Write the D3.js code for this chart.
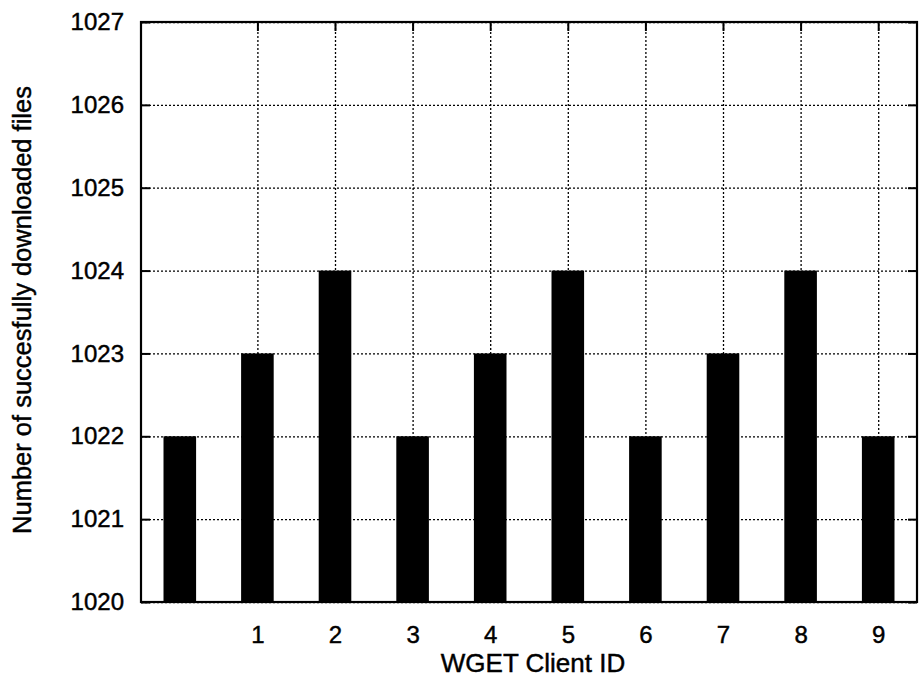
<!DOCTYPE html>
<html>
<head>
<meta charset="utf-8">
<script src="https://cdn.jsdelivr.net/npm/d3@7"></script>
<style>
  body { margin: 0; background: #fff; }
  svg text { font-family: "Liberation Sans", Arial, Helvetica, sans-serif; fill: #000; stroke: #000; stroke-width: 0.45; }
  .grid line { stroke: #000; stroke-width: 1.3; stroke-dasharray: 2,2; }
  .grid .domain { display: none; }
  .axis .domain { display: none; }
  .axis line { stroke: #000; stroke-width: 2; }
</style>
</head>
<body>
<svg id="chart" width="923" height="692"></svg>
<script>
// client ids and number of files each one got
var clientIds = [0, 1, 2, 3, 4, 5, 6, 7, 8, 9];
var downloads = [1022, 1023, 1024, 1022, 1023, 1024, 1022, 1023, 1024, 1022];
var xTickValues = [1, 2, 3, 4, 5, 6, 7, 8, 9];
var yTickValues = [1020, 1021, 1022, 1023, 1024, 1025, 1026, 1027];

var svg = d3.select("#chart");
var margin = {top: 22, right: 6, bottom: 90, left: 141};
var width = 923 - margin.left - margin.right;
var height = 692 - margin.top - margin.bottom;

var x = d3.scaleLinear().domain([-0.5, 9.5]).range([0, width]);
var y = d3.scaleLinear().domain([1020, 1027]).range([height, 0]);
var barW = x(0.42) - x(0);

var g = svg.append("g").attr("transform", "translate(" + margin.left + "," + margin.top + ")");

// dotted grid
g.append("g").attr("class", "grid")
  .call(d3.axisLeft(y).tickValues(yTickValues).tickSize(-width).tickFormat(""));
g.append("g").attr("class", "grid")
  .attr("transform", "translate(0," + height + ")")
  .call(d3.axisBottom(x).tickValues(xTickValues).tickSize(height).tickSizeOuter(0).tickFormat(""))
  .selectAll("line").attr("y2", -height);

// bars
g.selectAll("rect.bar")
  .data(clientIds)
  .enter().append("rect")
  .attr("class", "bar")
  .attr("x", function(d) { return x(d) - barW / 2; })
  .attr("width", barW)
  .attr("y", function(d, i) { return y(downloads[i]); })
  .attr("height", function(d, i) { return y(1020) - y(downloads[i]); })
  .attr("fill", "#000");

// axes with inward ticks
var left = g.append("g").attr("class", "axis")
  .call(d3.axisLeft(y).tickValues(yTickValues).tickFormat(d3.format("d"))
    .tickSizeInner(-9).tickSizeOuter(0).tickPadding(17));
left.selectAll("text").style("font-size", "24px");

var bottom = g.append("g").attr("class", "axis")
  .attr("transform", "translate(0," + height + ")")
  .call(d3.axisBottom(x).tickValues(xTickValues).tickFormat(d3.format("d"))
    .tickSizeInner(-9).tickSizeOuter(0).tickPadding(24));
bottom.selectAll("text").style("font-size", "24px");

g.append("g").attr("class", "axis")
  .attr("transform", "translate(" + width + ",0)")
  .call(d3.axisRight(y).tickValues(yTickValues).tickSizeInner(-9).tickSizeOuter(0).tickFormat(""));
g.append("g").attr("class", "axis")
  .call(d3.axisTop(x).tickValues(xTickValues).tickSizeInner(-9).tickSizeOuter(0).tickFormat(""));

// frame
g.append("rect")
  .attr("width", width).attr("height", height)
  .attr("fill", "none").attr("stroke", "#000").attr("stroke-width", 2.2);

// titles
svg.append("text")
  .attr("x", 533)
  .attr("y", 672)
  .attr("text-anchor", "middle")
  .style("font-size", "26px")
  .text("WGET Client ID");

svg.append("text")
  .attr("transform", "translate(31,310) rotate(-90)")
  .attr("text-anchor", "middle")
  .style("font-size", "25.5px")
  .text("Number of succesfully downloaded files");
</script>
</body>
</html>
